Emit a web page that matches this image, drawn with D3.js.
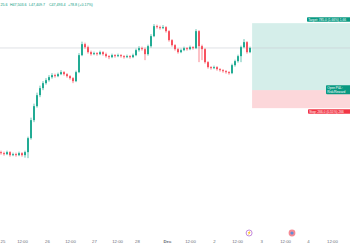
<!DOCTYPE html>
<html>
<head>
<meta charset="utf-8">
<title>BTC 2h</title>
<style>
  body { margin: 0; background: #fff; }
  svg { display: block; font-family: "Liberation Sans", Arial, sans-serif; }
</style>
</head>
<body>
<svg id="chart" width="350" height="250"></svg>
<script src="https://d3js.org/d3.v7.min.js"></script>
<script>
// candles, oldest first
const opens = [
  45410, 45390, 45370, 45410, 45350, 45370, 45350, 45390, 45350, 45410,
  45690, 46050, 46330, 46550, 46690, 46790, 46850, 46910, 46950, 46930,
  46970, 47010, 46970, 46930, 46890, 46830, 47010, 47350, 47570, 47510,
  47410, 47370, 47390, 47370, 47410, 47370, 47330, 47310, 47350, 47330,
  47350, 47330, 47310, 47330, 47310, 47350, 47450, 47490, 47470, 47370,
  47530, 47730, 47930, 47910, 47890, 47910, 47830, 47650, 47550, 47470,
  47410, 47450, 47490, 47470, 47510, 47490, 47830, 47530, 47470, 47210,
  47110, 47090, 47110, 47070, 47050, 47030, 47010, 46990, 47150, 47230,
  47330, 47510, 47610, 47410
];
const highs = [
  45440, 45420, 45440, 45430, 45400, 45400, 45420, 45410, 45440, 45720,
  46100, 46380, 46600, 46740, 46830, 46890, 46950, 46990, 46980, 47000,
  47050, 47030, 46990, 46950, 46910, 47040, 47390, 47620, 47600, 47540,
  47440, 47420, 47410, 47440, 47430, 47400, 47350, 47380, 47370, 47380,
  47370, 47350, 47360, 47350, 47380, 47480, 47530, 47520, 47500, 47560,
  47770, 47970, 47960, 47940, 47950, 47930, 47850, 47670, 47570, 47490,
  47480, 47520, 47510, 47540, 47530, 47870, 47850, 47560, 47490, 47230,
  47130, 47140, 47130, 47090, 47070, 47050, 47030, 47180, 47260, 47360,
  47540, 47670, 47630, 47520
];
const lows = [
  45360, 45340, 45350, 45320, 45330, 45320, 45330, 45320, 45300, 45290,
  45660, 46010, 46300, 46510, 46650, 46760, 46820, 46880, 46900, 46910,
  46950, 46940, 46900, 46860, 46790, 46810, 46990, 47330, 47480, 47380,
  47340, 47350, 47340, 47350, 47340, 47300, 47270, 47290, 47300, 47310,
  47300, 47280, 47290, 47280, 47290, 47330, 47420, 47440, 47250, 47340,
  47500, 47710, 47880, 47860, 47870, 47800, 47620, 47520, 47440, 47380,
  47390, 47430, 47440, 47450, 47460, 47470, 47210, 47250, 47180, 47080,
  47060, 47070, 47040, 47020, 47000, 46980, 46960, 46970, 47120, 47200,
  47210, 47490, 47380, 47390
];
const closes = [
  45390, 45370, 45410, 45350, 45370, 45350, 45390, 45350, 45410, 45690,
  46050, 46330, 46550, 46690, 46790, 46850, 46910, 46950, 46930, 46970,
  47010, 46970, 46930, 46890, 46830, 47010, 47350, 47570, 47510, 47410,
  47370, 47390, 47370, 47410, 47370, 47330, 47310, 47350, 47330, 47350,
  47330, 47310, 47330, 47310, 47350, 47450, 47490, 47470, 47370, 47530,
  47730, 47930, 47910, 47890, 47910, 47830, 47650, 47550, 47470, 47410,
  47450, 47490, 47470, 47510, 47490, 47830, 47530, 47470, 47210, 47110,
  47090, 47110, 47070, 47050, 47030, 47010, 46990, 47150, 47230, 47330,
  47510, 47610, 47410, 47493.4
];

// time axis (positions in candle index units)
const tickPos = [0.5, 7, 15.3, 23, 31, 38.7, 45.3, 55.3, 63, 71, 78.7, 86.7, 94.7, 102.3, 110.3];
const tickLabels = ["25", "12:00", "26", "12:00", "27", "12:00", "28", "Dec", "12:00", "2", "12:00", "3", "12:00", "4", "12:00"];

// legend row
const legendLabels = ["25.6", "H47,503.6", "L47,409.7", "C47,493.4", "+78.8 (+0.17%)"];

// long position tool
const entryIndex = 83.7;
const targetPrice = 47990;
const entryPrice = 46650;
const stopPrice = 46290;
const targetText = "Target: 785.0 (1.66%) 1,66";
const pnlText = ["Open P&L:", "Risk/Reward"];
const stopText = "Stop: 266.0 (0.55%) 266";

// event markers under the candles
const eventPos = [82.7, 97];

const up = "#22ab94", down = "#f7525f";
const width = 350, height = 250;

const svg = d3.select("#chart");
svg.append("rect").attr("width", width).attr("height", height).attr("fill", "#fff");

const x = d3.scaleLinear().domain([0, 83]).range([1, 250]);
const y = d3.scaleLinear().domain([45000, 48000]).range([172.65, 22.65]);

const candles = closes.map(function (c, i) {
  return { i: i, o: opens[i], h: highs[i], l: lows[i], c: c };
});

// position tool zones
const pos = svg.append("g");
pos.append("rect")
  .attr("x", x(entryIndex)).attr("width", width - x(entryIndex))
  .attr("y", y(targetPrice)).attr("height", y(entryPrice) - y(targetPrice))
  .attr("fill", "#089981").attr("fill-opacity", 0.17);
pos.append("rect")
  .attr("x", x(entryIndex)).attr("width", width - x(entryIndex))
  .attr("y", y(entryPrice)).attr("height", y(stopPrice) - y(entryPrice))
  .attr("fill", "#f23645").attr("fill-opacity", 0.2);

// last price line
svg.append("line")
  .attr("x1", 0).attr("x2", width)
  .attr("y1", y(closes[closes.length - 1])).attr("y2", y(closes[closes.length - 1]))
  .attr("stroke", "#c9ccd4").attr("stroke-width", 0.6);

// candles
const cg = svg.append("g");
cg.selectAll("line").data(candles).enter().append("line")
  .attr("x1", function (d) { return x(d.i); })
  .attr("x2", function (d) { return x(d.i); })
  .attr("y1", function (d) { return y(d.h); })
  .attr("y2", function (d) { return y(d.l); })
  .attr("stroke", function (d) { return d.c >= d.o ? up : down; })
  .attr("stroke-width", 0.7);
cg.selectAll("rect").data(candles).enter().append("rect")
  .attr("x", function (d) { return x(d.i) - 1; })
  .attr("width", 2)
  .attr("y", function (d) { return y(Math.max(d.o, d.c)); })
  .attr("height", function (d) { return Math.max(0.8, Math.abs(y(d.o) - y(d.c))); })
  .attr("fill", function (d) { return d.c >= d.o ? up : down; });

// position labels
function tag(yy, h, x0, fill, lines) {
  const g = svg.append("g");
  g.append("rect").attr("x", x0).attr("y", yy).attr("width", width - x0 + 2)
    .attr("height", h).attr("rx", 0.8).attr("fill", fill);
  lines.forEach(function (t, k) {
    g.append("text").attr("x", x0 + 1.2).attr("y", yy + 3.5 + k * 4)
      .attr("font-size", 3.2).attr("fill", "#fff").text(t);
  });
}
tag(y(targetPrice) - 6, 4.6, 307, "#089981", [targetText]);
tag(y(entryPrice) - 5, 9, 326, "#089981", pnlText);
tag(y(stopPrice) + 1, 4.6, 308, "#f23645", [stopText]);

// legend
const legendX = [0.5, 10, 29, 49, 68];
svg.append("g").selectAll("text").data(legendLabels).enter().append("text")
  .attr("x", function (d, i) { return legendX[i]; })
  .attr("y", 6)
  .attr("font-size", 3.6)
  .attr("fill", "#089981")
  .text(function (d) { return d; });

// event markers
const ev = svg.append("g");
ev.append("circle").attr("cx", x(eventPos[0])).attr("cy", 233).attr("r", 3)
  .attr("fill", "#fff").attr("stroke", "#b46fd6").attr("stroke-width", 0.8);
ev.append("text").attr("x", x(eventPos[0])).attr("y", 234.3).attr("text-anchor", "middle")
  .attr("font-size", 3.5).attr("fill", "#9c4fc9").text("\u26A1");
ev.append("circle").attr("cx", x(eventPos[1])).attr("cy", 233).attr("r", 3.4)
  .attr("fill", "#f58a94");
ev.append("circle").attr("cx", x(eventPos[1])).attr("cy", 233).attr("r", 1.6)
  .attr("fill", "#5b8fd8");

// time axis
const xAxis = d3.axisBottom(x)
  .tickValues(tickPos)
  .tickFormat(function (d, i) { return tickLabels[i]; })
  .tickSize(0).tickPadding(0);
const ax = svg.append("g").attr("transform", "translate(0,239.5)").call(xAxis);
ax.select(".domain").remove();
ax.selectAll("text")
  .attr("font-size", 4.3)
  .attr("font-family", "'Liberation Sans', Arial, sans-serif")
  .attr("fill", "#6a6d78")
  .attr("font-weight", function (d, i) { return tickLabels[i] === "Dec" ? "bold" : "normal"; });
</script>
</body>
</html>
